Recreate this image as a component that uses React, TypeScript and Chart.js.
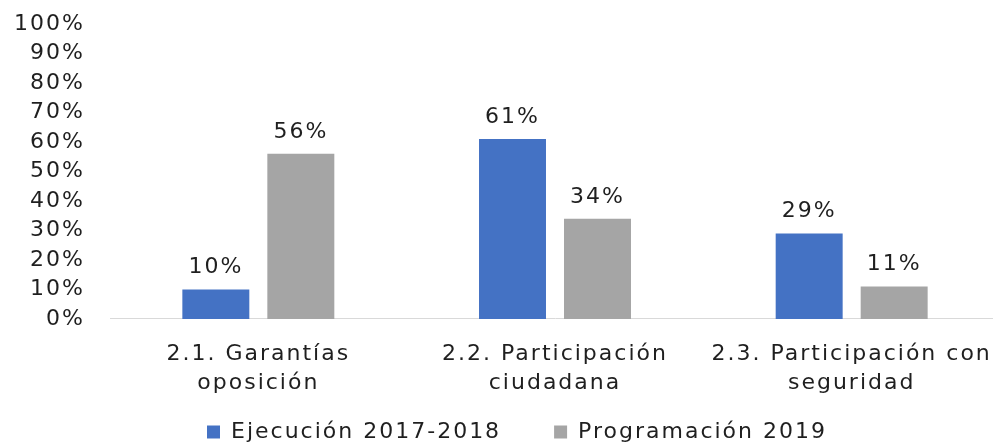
import React, { useEffect, useRef } from "react";
import { Chart, registerables } from "chart.js";

Chart.register(...registerables);

const categories: string[][] = [
  ["2.1. Garantías", "oposición"],
  ["2.2. Participación", "ciudadana"],
  ["2.3. Participación con", "seguridad"],
];
const ejecucion: number[] = [10, 61, 29];
const programacion: number[] = [56, 34, 11];
const seriesNames: string[] = ["Ejecución 2017-2018", "Programación 2019"];
const yTicks: number[] = [0, 10, 20, 30, 40, 50, 60, 70, 80, 90, 100];

const FONT = "'DejaVu Sans', Verdana, sans-serif";
const TEXT = "#1f1f1f";
const SPACING = "2px";

const spacingPlugin = {
  id: "spacing",
  beforeUpdate(chart: any) {
    (chart.ctx as any).letterSpacing = SPACING;
  },
  beforeLayout(chart: any) {
    (chart.ctx as any).letterSpacing = SPACING;
  },
  beforeDraw(chart: any) {
    (chart.ctx as any).letterSpacing = SPACING;
  },
  afterLayout(chart: any) {
    const lg = chart.legend;
    if (lg) {
      lg.left += 17;
      lg.right += 17;
      lg.top -= 6;
      lg.bottom -= 6;
    }
  },
};

const labelPlugin = {
  id: "barLabels",
  afterDatasetsDraw(chart: any) {
    const ctx = chart.ctx;
    ctx.save();
    ctx.letterSpacing = SPACING;
    ctx.font = `22px ${FONT}`;
    ctx.fillStyle = TEXT;
    ctx.textAlign = "center";
    ctx.textBaseline = "alphabetic";
    chart.data.datasets.forEach((ds: any, di: number) => {
      const meta = chart.getDatasetMeta(di);
      meta.data.forEach((bar: any, i: number) => {
        ctx.fillText(`${ds.data[i]}%`, bar.x, bar.y - 16);
      });
    });
    ctx.restore();
  },
};

export default function App() {
  const ref = useRef<HTMLCanvasElement>(null);
  useEffect(() => {
    document.body.style.margin = "0";
    document.body.style.overflow = "hidden";
    if (!ref.current) return;
    const chart = new Chart(ref.current, {
      type: "bar",
      data: {
        labels: categories,
        datasets: [
          {
            label: seriesNames[0],
            data: ejecucion,
            backgroundColor: "#4472C4",
            categoryPercentage: 0.573,
            barPercentage: 0.788,
          },
          {
            label: seriesNames[1],
            data: programacion,
            backgroundColor: "#A5A5A5",
            categoryPercentage: 0.573,
            barPercentage: 0.788,
          },
        ],
      },
      options: {
        animation: false,
        responsive: false,
        layout: { padding: { top: 0, right: 0, left: 0, bottom: -15 } },
        plugins: {
          legend: {
            position: "bottom",
            labels: {
              font: { family: FONT, size: 22 },
              color: TEXT,
              boxWidth: 13,
              boxHeight: 13,
              padding: 8,
              generateLabels: (chart: any) => {
                const items = Chart.defaults.plugins.legend.labels.generateLabels(chart);
                if (items.length > 1) items[0].text = items[0].text + "     ";
                return items;
              },
            },
          },
          tooltip: { enabled: false },
        },
        scales: {
          x: {
            grid: { display: false, drawTicks: false },
            border: { display: true, color: "#D9D9D9", width: 1 },
            afterFit: (scale: any) => {
              scale.paddingRight = 0;
              scale.paddingLeft = 0;
            },
            ticks: {
              font: { family: FONT, size: 22, lineHeight: 1.32 },
              color: TEXT,
              padding: 21,
              maxRotation: 0,
              autoSkip: false,
            },
          },
          y: {
            min: 0,
            max: 100,
            afterFit: (scale: any) => {
              scale.width = 110;
              scale.paddingTop = 24;
              scale.paddingBottom = 0;
            },
            afterBuildTicks: (scale: any) => {
              scale.ticks = yTicks.map((v) => ({ value: v }));
            },
            grid: { display: false, drawTicks: false },
            border: { display: false },
            ticks: {
              font: { family: FONT, size: 22 },
              color: TEXT,
              padding: 25,
              autoSkip: false,
              callback: (v: any) => `${v}%`,
            },
          },
        },
      },
      plugins: [spacingPlugin, labelPlugin],
    });
    return () => chart.destroy();
  }, []);
  return (
    <div style={{ width: 1000, height: 444 }}>
      <canvas ref={ref} width={1000} height={444} style={{ width: 1000, height: 444 }} />
    </div>
  );
}
